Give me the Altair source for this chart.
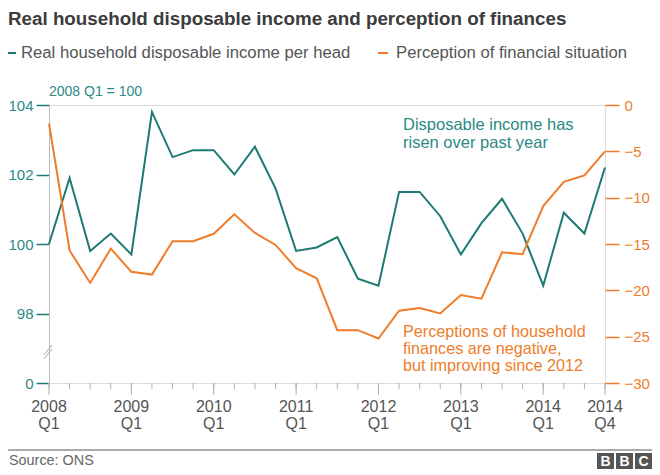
import altair as alt
import pandas as pd

# ---------------- data ----------------
quarter_idx = list(range(28))
income = [100.0, 101.9, 99.8, 100.3, 99.7, 103.8, 102.5, 102.7, 102.7, 102.0,
          102.8, 101.6, 99.8, 99.9, 100.2, 99.0, 98.8, 101.5, 101.5, 100.8,
          99.7, 100.6, 101.3, 100.3, 98.8, 100.9, 100.3, 102.2]
perception = [-2.0, -15.7, -19.2, -15.5, -18.0, -18.3, -14.7, -14.7, -13.9, -11.8,
              -13.8, -15.1, -17.6, -18.7, -24.3, -24.3, -25.2, -22.2, -21.9, -22.5,
              -20.5, -20.9, -15.9, -16.1, -10.9, -8.3, -7.6, -5.0]
x_label_pos = [0, 4, 8, 12, 16, 20, 24, 27]
x_label_year = ["2008", "2009", "2010", "2011", "2012", "2013", "2014", "2014"]
x_label_q = ["Q1", "Q1", "Q1", "Q1", "Q1", "Q1", "Q1", "Q4"]
left_ticks = [96, 98, 100, 102, 104]
right_ticks = [-30, -25, -20, -15, -10, -5, 0]

title_text = "Real household disposable income and perception of finances"
legend_income = "Real household disposable income per head"
legend_percep = "Perception of financial situation"
base_note = "2008 Q1 = 100"
note_income = ["Disposable income has", "risen over past year"]
note_percep = ["Perceptions of household", "finances are negative,", "but improving since 2012"]
source_text = "Source: ONS"

TEAL = "#1d7a73"
TEAL_TXT = "#2a8a84"
ORANGE = "#ee7d2b"
GREY = "#555555"
TICK_GREY = "#b0b0b0"
FONT = "Liberation Sans"

df = pd.DataFrame({"q": quarter_idx, "income": income, "perception": perception})
minor_df = pd.DataFrame({"q": quarter_idx})
major_df = pd.DataFrame({"q": x_label_pos, "year": x_label_year, "quarter": x_label_q})

x_scale = alt.Scale(domain=[0, 27], nice=False, zero=False)


def xq():
    return alt.X("q:Q", scale=x_scale, axis=None)


income_line = alt.Chart(df).mark_line(color=TEAL, strokeWidth=2).encode(
    x=xq(),
    y=alt.Y("income:Q", scale=alt.Scale(domain=[96, 104], nice=False, zero=False),
            axis=alt.Axis(values=left_ticks, labelExpr="datum.value == 96 ? '0' : datum.label",
                          tickSize=13, tickColor=TEAL, tickWidth=1.5, labelColor=TEAL_TXT,
                          labelFontSize=15, labelFont=FONT, labelPadding=3,
                          domainColor="#bbbbbb", grid=False, title=None)),
)

percep_line = alt.Chart(df).mark_line(color=ORANGE, strokeWidth=2).encode(
    x=xq(),
    y=alt.Y("perception:Q", scale=alt.Scale(domain=[-30, 0], nice=False, zero=False),
            axis=alt.Axis(values=right_ticks, orient="right", tickSize=14, tickColor=ORANGE,
                          tickWidth=1.5, labelColor=ORANGE, labelFontSize=15, labelFont=FONT,
                          labelPadding=5, domain=False, grid=False, title=None)),
)

# quarter ticks and labels on the time axis, placed by the x scale
minor_ticks = alt.Chart(minor_df).mark_rule(color=TICK_GREY, strokeWidth=1).encode(
    x=xq(), y=alt.value(278), y2=alt.value(284))
major_ticks = alt.Chart(major_df).mark_rule(color=TICK_GREY, strokeWidth=1).encode(
    x=xq(), y=alt.value(278), y2=alt.value(290))
year_labels = alt.Chart(major_df).mark_text(font=FONT, fontSize=16, color=GREY,
                                            baseline="middle", align="center").encode(
    x=xq(), y=alt.value(302), text="year:N")
quarter_labels = alt.Chart(major_df).mark_text(font=FONT, fontSize=16, color=GREY,
                                               baseline="middle", align="center").encode(
    x=xq(), y=alt.value(319), text="quarter:N")

one = pd.DataFrame({"k": [0]})


def txt(text, x, y, color, size, weight="normal", align="left", lh=None):
    kw = dict(text=text, align=align, baseline="middle", font=FONT, fontSize=size,
              color=color, fontWeight=weight)
    if lh is not None:
        kw["lineHeight"] = lh
    return alt.Chart(one).mark_text(**kw).encode(x=alt.value(x), y=alt.value(y))


def seg(x1, x2, y1, y2, color, w):
    return alt.Chart(one).mark_rule(color=color, strokeWidth=w).encode(
        x=alt.value(x1), x2=alt.value(x2), y=alt.value(y1), y2=alt.value(y2))


# offsets relative to plot origin (page 49,105)
layers = [
    txt(title_text, -41, -86, "#3c3c3c", 18.8, weight="bold"),
    seg(-41, -33, -52, -52, TEAL, 2),
    txt(legend_income, -28, -52, GREY, 16.7),
    seg(329, 339, -52, -52, ORANGE, 2),
    txt(legend_percep, 347, -52, GREY, 16.7),
    txt(base_note, 0, -13, TEAL_TXT, 14),
    txt(note_income, 354, 20, TEAL_TXT, 16.5, lh=18),
    txt(note_percep, 354, 227, ORANGE, 16.2, lh=17),
    seg(-5, 3, 254, 244, "#bbbbbb", 1.2),
    seg(-5, 3, 250, 240, "#bbbbbb", 1.2),
    seg(-41, 603, 345, 345, "#aaaaaa", 2),
    txt(source_text, -40, 356, "#666666", 14.4),
]

# BBC blocks
for i, letter in enumerate(["B", "B", "C"]):
    x0 = 548 + i * 19
    layers.append(alt.Chart(one).mark_rect(color="#555555").encode(
        x=alt.value(x0), x2=alt.value(x0 + 17), y=alt.value(348), y2=alt.value(364)))
    layers.append(txt(letter, x0 + 8.5, 356.5, "white", 14, weight="bold", align="center"))

chart = alt.layer(income_line, percep_line, minor_ticks, major_ticks, year_labels,
                  quarter_labels, *layers).resolve_scale(
    y="independent"
).resolve_axis(
    y="independent"
).properties(
    width=556, height=278,
    autosize=alt.AutoSizeParams(type="none"),
    padding={"left": 41, "top": 97, "right": 47, "bottom": 88},
).configure_view(
    stroke="#cccccc", strokeWidth=1
).configure(background="white")

chart.save("out.html", embed_options={"renderer": "svg", "actions": False})
